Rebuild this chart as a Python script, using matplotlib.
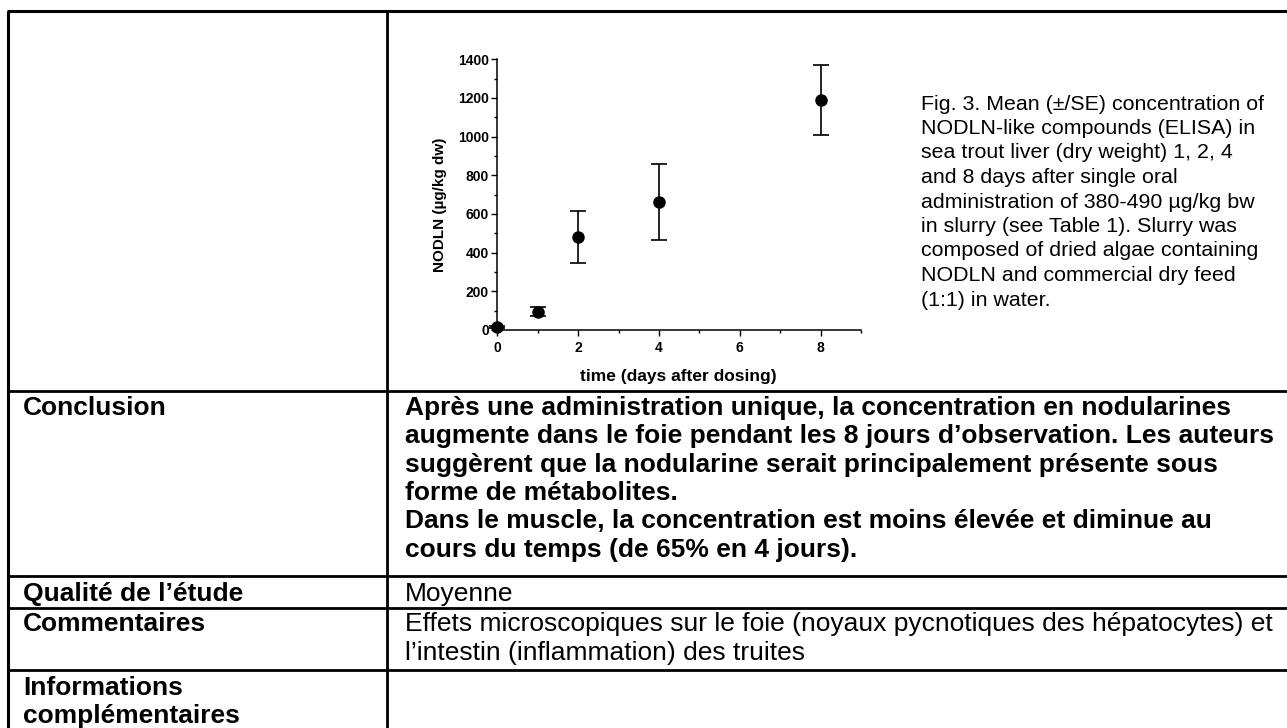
import matplotlib
matplotlib.use("Agg")
import matplotlib.pyplot as plt
import matplotlib.transforms as mtransforms
from matplotlib.lines import Line2D
from matplotlib.ticker import MultipleLocator

plt.rcParams['font.family'] = ['Liberation Sans', 'DejaVu Sans']

# NODLN-like compounds in sea trout liver (mean ± SE)
days = [0, 1, 2, 4, 8]
nodln_mean = [15, 95, 480, 660, 1190]
nodln_se = [5, 25, 133, 197, 181]

caption_lines = [
    "Fig. 3. Mean (±/SE) concentration of",
    "NODLN-like compounds (ELISA) in",
    "sea trout liver (dry weight) 1, 2, 4",
    "and 8 days after single oral",
    "administration of 380-490 µg/kg bw",
    "in slurry (see Table 1). Slurry was",
    "composed of dried algae containing",
    "NODLN and commercial dry feed",
    "(1:1) in water.",
]

conclusion_lines = [
    "Après une administration unique, la concentration en nodularines",
    "augmente dans le foie pendant les 8 jours d’observation. Les auteurs",
    "suggèrent que la nodularine serait principalement présente sous",
    "forme de métabolites.",
    "Dans le muscle, la concentration est moins élevée et diminue au",
    "cours du temps (de 65% en 4 jours).",
]
quality_text = "Moyenne"
comment_lines = [
    "Effets microscopiques sur le foie (noyaux pycnotiques des hépatocytes) et",
    "l’intestin (inflammation) des truites",
]
row_headers = ["Conclusion", "Qualité de l’étude", "Commentaires",
               "Informations", "complémentaires"]

W, H = 1287, 728
fig = plt.figure(figsize=(W / 100, H / 100), dpi=100)
fig.patch.set_facecolor("white")

# pixel coordinates measured from the top-left corner
px = mtransforms.Affine2D().scale(1 / W, -1 / H).translate(0, 1) + fig.transFigure


def hline(y, x0=8, x1=W, lw=2.0):
    fig.add_artist(Line2D([x0, x1], [y, y], color="black", lw=lw,
                          transform=px, solid_capstyle="butt"))


def vline(x, y0=11, y1=H, lw=2.0):
    fig.add_artist(Line2D([x, x], [y0, y1], color="black", lw=lw,
                          transform=px, solid_capstyle="butt"))


# table grid
hline(11, x0=7, lw=2.2)
vline(8, lw=2.2)
vline(387, lw=2.0)
for yy in (391, 576, 608, 670):
    hline(yy, lw=2.0)

# chart
x_left, x_right = 497.3, 861.0
y_bottom, y_top = 330.0, 59.3
ax = fig.add_axes([x_left / W, 1 - y_bottom / H,
                   (x_right - x_left) / W, (y_bottom - y_top) / H])
ax.errorbar(days, nodln_mean, yerr=nodln_se, fmt="o", color="black",
            markersize=8, elinewidth=1.2, capsize=6, capthick=1.2,
            clip_on=False, zorder=3)
ax.set_xlim(0, 9)
ax.set_ylim(0, 1400)
ax.xaxis.set_major_locator(MultipleLocator(2))
ax.xaxis.set_minor_locator(MultipleLocator(1))
ax.yaxis.set_major_locator(MultipleLocator(200))
ax.yaxis.set_minor_locator(MultipleLocator(100))
for side in ("top", "right"):
    ax.spines[side].set_visible(False)
for side in ("left", "bottom"):
    ax.spines[side].set_linewidth(1.1)
ax.tick_params(which="major", direction="out", length=4, width=1.0)
ax.tick_params(which="minor", direction="out", length=2.5, width=1.0)
ax.tick_params(axis="y", which="major", pad=2)
ax.tick_params(axis="x", which="major", pad=4)
for lab in ax.get_xticklabels() + ax.get_yticklabels():
    lab.set_fontweight("bold")
    lab.set_fontsize(10)
ax.set_xlabel("time (days after dosing)", fontsize=12.5, fontweight="bold")
ax.set_ylabel("NODLN (µg/kg dw)", fontsize=11, fontweight="bold")
ax.xaxis.set_label_coords(0.497, -0.144)
ax.yaxis.set_label_coords(-0.138, 0.4636)

# figure caption beside the chart
for i, line in enumerate(caption_lines):
    fig.text(921, 109.5 + i * 24.5, line, transform=px, fontsize=15.4,
             ha="left", va="baseline")

# table text
tfs = 19.0
fig.text(23, 415, row_headers[0], transform=px, fontsize=tfs,
         fontweight="bold", va="baseline")
for i, line in enumerate(conclusion_lines):
    fig.text(405, 415 + i * 28.3, line, transform=px, fontsize=tfs,
             fontweight="bold", va="baseline")
fig.text(23, 600.5, row_headers[1], transform=px, fontsize=tfs,
         fontweight="bold", va="baseline")
fig.text(405, 600.5, quality_text, transform=px, fontsize=tfs, va="baseline")
fig.text(23, 631, row_headers[2], transform=px, fontsize=tfs,
         fontweight="bold", va="baseline")
for i, line in enumerate(comment_lines):
    fig.text(405, 631 + i * 29, line, transform=px, fontsize=tfs,
             va="baseline")
fig.text(23, 695, row_headers[3], transform=px, fontsize=tfs,
         fontweight="bold", va="baseline")
fig.text(23, 723.5, row_headers[4], transform=px, fontsize=tfs,
         fontweight="bold", va="baseline")

fig.savefig("out.png", dpi=100, facecolor="white")
